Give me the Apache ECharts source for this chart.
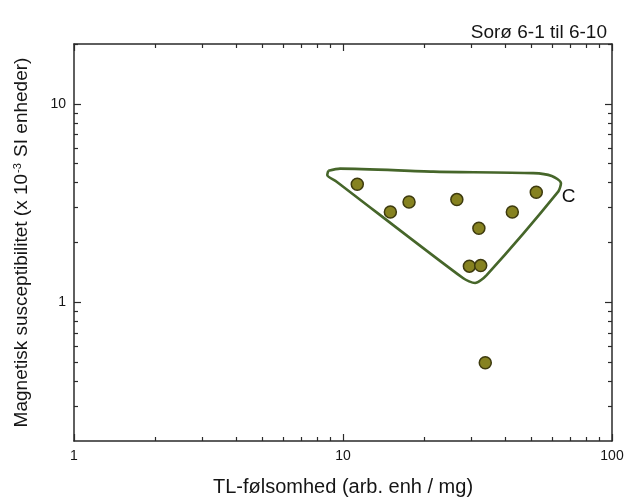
<!DOCTYPE html>
<html>
<head>
<meta charset="utf-8">
<script src="https://cdn.jsdelivr.net/npm/echarts@6/dist/echarts.min.js"></script>
<style>html,body{margin:0;padding:0;background:#fff}#c{width:630px;height:502px}</style>
</head>
<body>
<div id="c"></div>
<script>
// Data (TL sensitivity, magnetic susceptibility)
var tlSensitivity = [11.3, 15.0, 17.6, 26.5, 32.0, 29.5, 32.5, 42.6, 52.3, 33.8];
var magSusceptibility = [3.93, 2.85, 3.2, 3.29, 2.36, 1.52, 1.53, 2.85, 3.58, 0.496];
// Outline of group C (data coordinates)
var regionCx = [8.82, 9.75, 21.66, 50.97, 59.7, 64.6, 63.1, 34.2, 30.96, 28.0, 9.47, 8.74, 8.82];
var regionCy = [4.60, 4.71, 4.55, 4.47, 4.33, 3.98, 3.61, 1.37, 1.25, 1.32, 4.05, 4.38, 4.60];
var regionLabel = {text: 'C', x: 69, y: 3.4};
var xMajor = [1, 10, 100];
var xMinor = [2,3,4,5,6,7,8,9,20,30,40,50,60,70,80,90];
var yMajor = [1, 10];
var yMinor = [0.3,0.4,0.5,0.6,0.7,0.8,0.9,2,3,4,5,6,7,8,9,20];
var xRange = [1, 100];
var yRange = [0.2, 20];

var chart = echarts.init(document.getElementById('c'));
var font = 'Liberation Sans, Arial, sans-serif';
var lineCol = '#2a2a2a';
var txt = '#151515';

function xAx(pos, major, showLabel, showLine) {
  return {
    type: 'log', logBase: 10, min: xRange[0], max: xRange[1], position: pos,
    splitLine: {show: false},
    axisLine: {show: showLine, lineStyle: {color: lineCol, width: 1.5}},
    axisTick: {show: true, inside: true, length: major ? 7 : 4, customValues: major ? xMajor : xMinor, lineStyle: {color: lineCol, width: 1.2}},
    axisLabel: {show: showLabel, customValues: xMajor, margin: 8, fontFamily: font, fontSize: 14, color: txt},
    name: showLabel ? 'TL-følsomhed (arb. enh / mg)' : '',
    nameLocation: 'middle', nameGap: 36,
    nameTextStyle: {fontFamily: font, fontSize: 20, color: txt}
  };
}
function yAx(pos, major, showLabel, showLine) {
  return {
    type: 'log', logBase: 10, min: yRange[0], max: yRange[1], position: pos,
    splitLine: {show: false},
    axisLine: {show: showLine, lineStyle: {color: lineCol, width: 1.5}},
    axisTick: {show: true, inside: true, length: major ? 7 : 4, customValues: major ? yMajor : yMinor, lineStyle: {color: lineCol, width: 1.2}},
    axisLabel: {show: showLabel, customValues: yMajor, margin: 8, fontFamily: font, fontSize: 14, color: txt},
    name: showLabel ? '{t|Magnetisk susceptibilitet (x 10}{s|-3}{t| SI enheder)}' : '',
    nameLocation: 'middle', nameGap: 43,
    nameTextStyle: {fontFamily: font, fontSize: 19, color: txt,
      rich: {t: {fontFamily: font, fontSize: 19, color: txt},
             s: {fontFamily: font, fontSize: 11, color: txt, verticalAlign: 'top', padding: [0, 1, 0, 1]}}}
  };
}

var points = tlSensitivity.map(function (x, i) { return [x, magSusceptibility[i]]; });
var outline = regionCx.map(function (x, i) { return [x, regionCy[i]]; });

chart.setOption({
  backgroundColor: '#fff',
  animation: false,
  title: {text: 'Sorø 6-1 til 6-10', right: 18, top: 18,
    textStyle: {fontFamily: font, fontSize: 19, fontWeight: 'normal', color: txt}},
  grid: {left: 74, right: 18, top: 44, bottom: 60},
  xAxis: [xAx('bottom', true, true, true), xAx('top', true, false, true), xAx('bottom', false, false, false), xAx('top', false, false, false)],
  yAxis: [yAx('left', true, true, true), yAx('right', true, false, true), yAx('left', false, false, false), yAx('right', false, false, false)],
  series: [
    {type: 'line', data: outline, smooth: 0.25, symbol: 'none', xAxisIndex: 0, yAxisIndex: 0,
      lineStyle: {color: '#46662a', width: 2.6}, z: 2},
    {type: 'scatter', data: points, symbol: 'circle', symbolSize: 12, xAxisIndex: 0, yAxisIndex: 0,
      itemStyle: {color: '#868220', borderColor: '#3d3a0e', borderWidth: 1.5, opacity: 1}, z: 3},
    {type: 'scatter', data: [[regionLabel.x, regionLabel.y]], symbolSize: 1, xAxisIndex: 0, yAxisIndex: 0,
      itemStyle: {color: 'rgba(0,0,0,0)', opacity: 1},
      label: {show: true, formatter: regionLabel.text, position: 'inside', fontFamily: font, fontSize: 19, color: '#111', opacity: 1}}
  ]
});
</script>
</body>
</html>
